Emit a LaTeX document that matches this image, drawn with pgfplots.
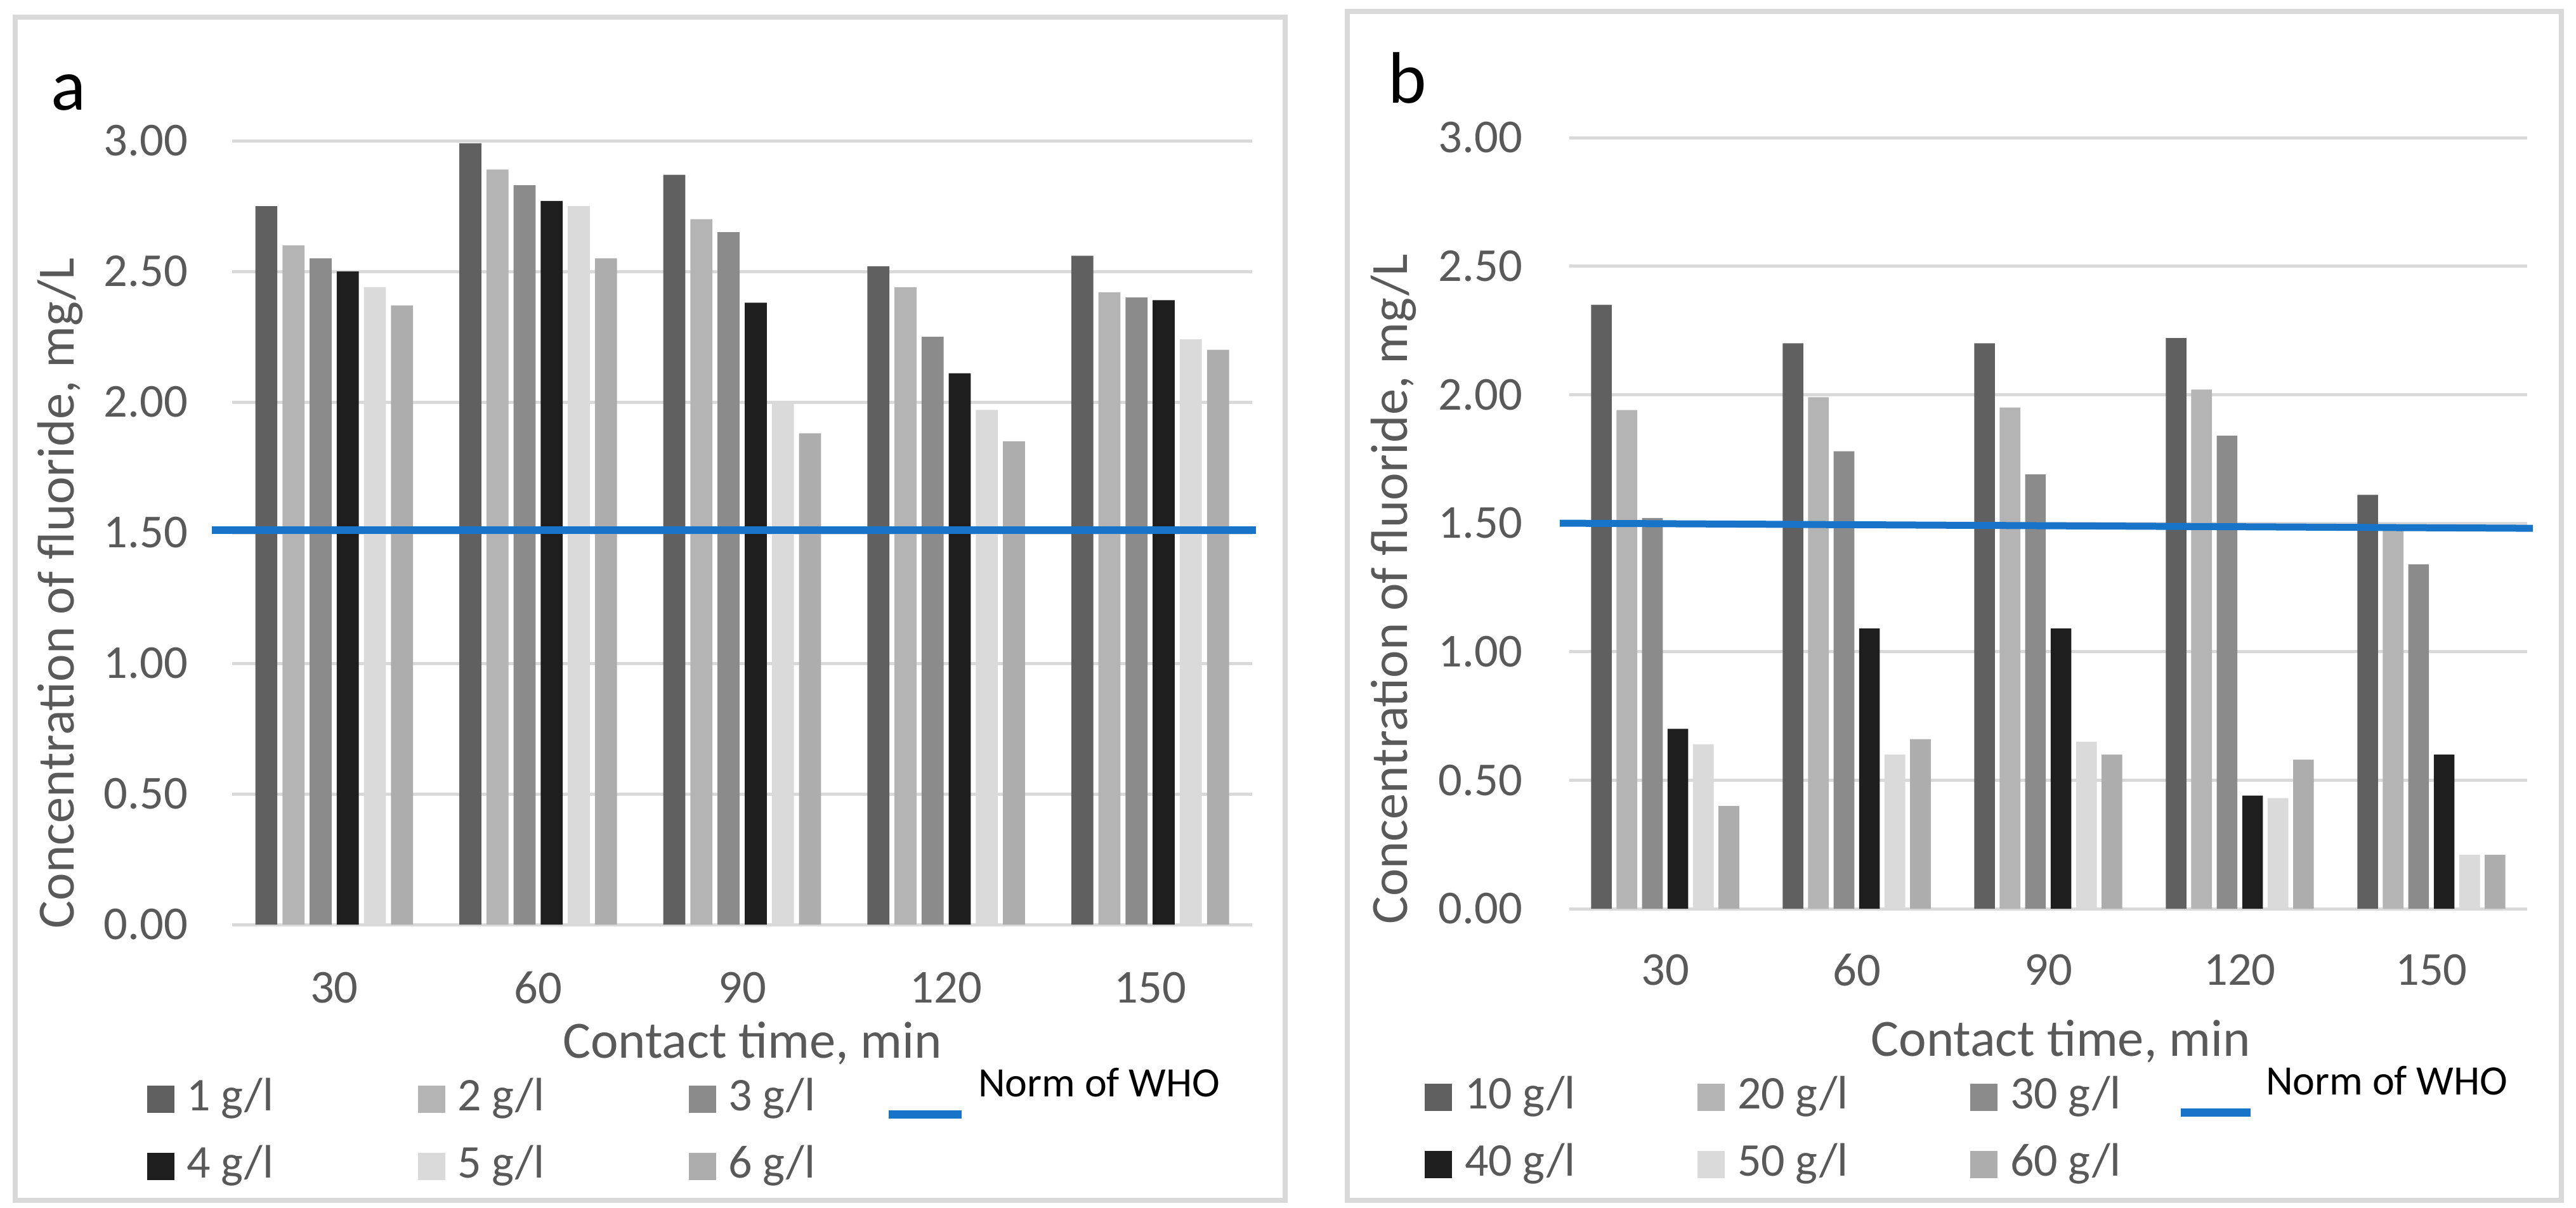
\documentclass[border=0pt]{standalone}
\usepackage{fontspec}
\setmainfont{Carlito}
\usepackage{pgfplots}
\usepackage{pgfplotstable}
\pgfplotsset{compat=1.18}

\definecolor{cA}{HTML}{606060}
\definecolor{cB}{HTML}{B4B4B4}
\definecolor{cC}{HTML}{8B8B8B}
\definecolor{cD}{HTML}{1E1E1E}
\definecolor{cE}{HTML}{DADADA}
\definecolor{cF}{HTML}{ADADAD}
\definecolor{who}{HTML}{1874C9}
\definecolor{gridc}{HTML}{D9D9D9}
\definecolor{txt}{HTML}{595959}

\pgfplotstableread{
x s1 s2 s3 s4 s5 s6
0 2.75 2.60 2.55 2.50 2.44 2.37
1 2.99 2.89 2.83 2.77 2.75 2.55
2 2.87 2.70 2.65 2.38 2.00 1.88
3 2.52 2.44 2.25 2.11 1.97 1.85
4 2.56 2.42 2.40 2.39 2.24 2.20
}\dataA
\pgfplotstableread{
x s1 s2 s3 s4 s5 s6
0 2.35 1.94 1.52 0.70 0.64 0.40
1 2.20 1.99 1.78 1.09 0.60 0.66
2 2.20 1.95 1.69 1.09 0.65 0.60
3 2.22 2.02 1.84 0.44 0.43 0.58
4 1.61 1.48 1.34 0.60 0.21 0.21
}\dataB

\pgfplotsset{
  sqleg/.style={legend image code/.code={\fill[##1] (0pt,-2.15pt) rectangle (4.3pt,2.15pt);}},
  lnleg/.style={legend image code/.code={\draw[##1] (0pt,-2.4pt) -- (#1,-2.4pt);}},
  barA/.style={ybar, bar width=0.108, bar shift=#1, draw=none, forget plot},
  fluo/.style={
    scale only axis,
    clip=false,
    xmin=-0.5, xmax=4.5, ymin=0, ymax=3,
    axis line style={draw=none},
    major tick length=0pt,
    ytick={0,0.5,1,1.5,2,2.5,3},
    xtick={0,1,2,3,4},
    xticklabels={30,60,90,120,150},
    ymajorgrids,
    grid style={draw=gridc, line width=0.5pt},
    /pgf/number format/assume math mode=true,
    yticklabel style={/pgf/number format/fixed, /pgf/number format/fixed zerofill, /pgf/number format/precision=2, anchor=east, inner sep=0pt, font=\fontsize{7.45}{9}\selectfont, text=txt},
    xticklabel style={anchor=center, inner sep=0pt, font=\fontsize{7.45}{9}\selectfont, text=txt},
    label style={font=\fontsize{8.25}{10}\selectfont, text=txt, inner sep=0pt},
    xlabel={Contact time, min},
    ylabel={Concentration of fluoride, mg/L},
    legend columns=4,
    legend cell align=left,
    legend style={draw=none, fill=none, inner sep=0pt, outer sep=0pt, anchor=north west,
      nodes={inner sep=0pt, text=txt, font=\fontsize{7.4}{9}\selectfont, text height=5.2pt, text depth=1.6pt},
      row sep=3.8pt},
  },
}

\begin{document}
\begin{tikzpicture}
\draw[gridc, line width=0.8pt] (2.35pt,1.1pt) rectangle (202.6pt,187.7pt);
\draw[gridc, line width=0.8pt] (212.4pt,1.1pt) rectangle (403.8pt,188.6pt);

% ---------------- panel a ----------------
\begin{axis}[fluo, at={(36.6pt,44.6pt)}, anchor=south west,
  width=160.8pt, height=123.6pt,
  yticklabel style={xshift=-6.8pt},
  xticklabel style={yshift=-10pt},
  ylabel style={at={(axis description cs:-0.1685,0.423)}, anchor=center},
  xlabel style={at={(axis description cs:0.51,0)}, anchor=center, yshift=-18.75pt},
  legend style={at={(axis description cs:0,0)}, xshift=-13.4pt, yshift=-24.1pt},
]
\addplot[barA=-0.3325, fill=cA] table[x=x,y=s1]{\dataA};
\addplot[barA=-0.1995, fill=cB] table[x=x,y=s2]{\dataA};
\addplot[barA=-0.0665, fill=cC] table[x=x,y=s3]{\dataA};
\addplot[barA=0.0665, fill=cD] table[x=x,y=s4]{\dataA};
\addplot[barA=0.1995, fill=cE] table[x=x,y=s5]{\dataA};
\addplot[barA=0.3325, fill=cF] table[x=x,y=s6]{\dataA};
\addplot[who, line width=1.2pt, forget plot] coordinates {(-0.6,1.51) (4.52,1.51)};
\addlegendimage{sqleg, fill=cA, draw=none}\addlegendentry{\makebox[38.4pt][l]{\hspace{1.9pt}1 g/l}}
\addlegendimage{sqleg, fill=cB, draw=none}\addlegendentry{\makebox[38.4pt][l]{\hspace{1.9pt}2 g/l}}
\addlegendimage{sqleg, fill=cC, draw=none}\addlegendentry{\makebox[26.5pt][l]{\hspace{1.9pt}3 g/l}}
\addlegendimage{lnleg=11.5pt, draw=who, line width=1.3pt}\addlegendentry{\hspace{2pt}\raisebox{2.2pt}{\fontsize{6.6}{8}\selectfont\color{black}Norm of WHO}}
\addlegendimage{sqleg, fill=cD, draw=none}\addlegendentry{\makebox[38.4pt][l]{\hspace{1.9pt}4 g/l}}
\addlegendimage{sqleg, fill=cE, draw=none}\addlegendentry{\makebox[38.4pt][l]{\hspace{1.9pt}5 g/l}}
\addlegendimage{sqleg, fill=cF, draw=none}\addlegendentry{\makebox[26.5pt][l]{\hspace{1.9pt}6 g/l}}
\end{axis}

% ---------------- panel b ----------------
\begin{axis}[fluo, at={(247.4pt,47.1pt)}, anchor=south west,
  width=151.0pt, height=121.6pt,
  yticklabel style={xshift=-7.2pt},
  xticklabel style={yshift=-9.7pt},
  ylabel style={at={(axis description cs:-0.1838,0.4145)}, anchor=center},
  xlabel style={at={(axis description cs:0.513,0)}, anchor=center, yshift=-20.9pt},
  legend style={at={(axis description cs:0,0)}, xshift=-22.8pt, yshift=-26.3pt},
]
\addplot[barA=-0.3325, fill=cA] table[x=x,y=s1]{\dataB};
\addplot[barA=-0.1995, fill=cB] table[x=x,y=s2]{\dataB};
\addplot[barA=-0.0665, fill=cC] table[x=x,y=s3]{\dataB};
\addplot[barA=0.0665, fill=cD] table[x=x,y=s4]{\dataB};
\addplot[barA=0.1995, fill=cE] table[x=x,y=s5]{\dataB};
\addplot[barA=0.3325, fill=cF] table[x=x,y=s6]{\dataB};
\addplot[who, line width=1.1pt, forget plot] coordinates {(-0.55,1.50) (4.53,1.48)};
\addlegendimage{sqleg, fill=cA, draw=none}\addlegendentry{\makebox[38.7pt][l]{\hspace{2pt}10 g/l}}
\addlegendimage{sqleg, fill=cB, draw=none}\addlegendentry{\makebox[38.7pt][l]{\hspace{2pt}20 g/l}}
\addlegendimage{sqleg, fill=cC, draw=none}\addlegendentry{\makebox[28.2pt][l]{\hspace{2pt}30 g/l}}
\addlegendimage{lnleg=11.0pt, draw=who, line width=1.3pt}\addlegendentry{\hspace{1.8pt}\raisebox{2.2pt}{\fontsize{6.6}{8}\selectfont\color{black}Norm of WHO}}
\addlegendimage{sqleg, fill=cD, draw=none}\addlegendentry{\makebox[38.7pt][l]{\hspace{2pt}40 g/l}}
\addlegendimage{sqleg, fill=cE, draw=none}\addlegendentry{\makebox[38.7pt][l]{\hspace{2pt}50 g/l}}
\addlegendimage{sqleg, fill=cF, draw=none}\addlegendentry{\makebox[28.2pt][l]{\hspace{2pt}60 g/l}}
\end{axis}

\node[font=\fontsize{11.5}{13}\selectfont, inner sep=0pt] at (10.8pt,175.8pt) {a};
\node[font=\fontsize{11.5}{13}\selectfont, inner sep=0pt] at (221.9pt,178.1pt) {b};

\pgfresetboundingbox
\path[use as bounding box] (0pt,0pt) rectangle (406.1pt,190.4pt);
\end{tikzpicture}
\end{document}
